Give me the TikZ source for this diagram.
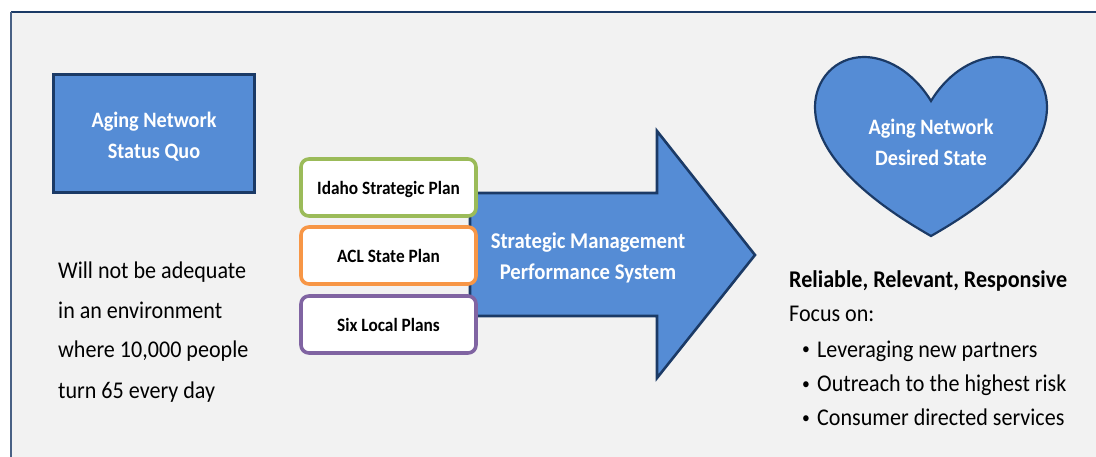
\documentclass[tikz,border=0pt]{standalone}
\usepackage{fontspec}
\setmainfont[FakeStretch=0.92]{Carlito}
\definecolor{fillblue}{HTML}{558CD5}
\definecolor{edgeblue}{HTML}{1B3A66}
\definecolor{panelgray}{HTML}{F2F2F2}
\definecolor{planGreen}{HTML}{9BBB59}
\definecolor{planOrange}{HTML}{F79646}
\definecolor{planPurple}{HTML}{8064A2}
\tikzset{
  shapeblue/.style={draw=edgeblue,fill=fillblue,line width=2.6pt,line join=miter},
  whitetxt/.style={text=white,font=\bfseries\fontsize{22}{31}\selectfont,align=center},
  plantxt/.style={font=\bfseries\fontsize{18.8}{22}\selectfont,text=black},
  planbox/.style={draw,fill=white,rounded corners=8pt,line width=3.6pt,minimum width=175pt,minimum height=57pt,inner sep=0pt},
  bodytxt/.style={anchor=base west,inner sep=0pt,font=\fontsize{24}{28}\selectfont,text=black}
}
\begin{document}
\begin{tikzpicture}[x=1pt,y=-1pt]
\useasboundingbox (0,0) rectangle (1096,457);

\fill[panelgray] (11,13) rectangle (1096,457);
\draw[edgeblue,line width=2.4pt] (1096,12)--(11,12);
\draw[edgeblue!80!white,line width=1.2pt] (11,12)--(11,457);

% status quo
\node[shapeblue,line width=3pt,minimum width=201pt,minimum height=118pt,inner sep=0pt] (quo) at (154,134) {};
\node[whitetxt] (quotxt) at (154,137) {Aging Network\\Status Quo};
\node[bodytxt] (q1) at (58,279) {Will not be adequate};
\node[bodytxt] (q2) at (58,319) {in an environment};
\node[bodytxt] (q3) at (58,358) {where 10,000 people};
\node[bodytxt] (q4) at (58,398) {turn 65 every day};

% big arrow
\draw[shapeblue] (470,193)--(657,193)--(657,131)--(755,255)--(657,378)--(657,316)--(470,316)--cycle;
\node[whitetxt,font=\fontsize{22.5}{31}\selectfont\bfseries] (sys) at (588,258) {Strategic Management\\Performance System};

% plans
\node[planbox,draw=planGreen] (idaho) at (388.5,187.5) {};
\node[planbox,draw=planOrange] (acl) at (388.5,255.5) {};
\node[planbox,draw=planPurple] (six) at (388.5,324.5) {};
\node[plantxt] (idahotxt) at (388.5,189) {Idaho Strategic Plan};
\node[plantxt] (acltxt) at (388.5,256) {ACL State Plan};
\node[plantxt] (sixtxt) at (388.5,325) {Six Local Plans};

% heart
\draw[shapeblue,line width=2.2pt] (931,101) .. controls (912,70) and (885,57) .. (864,57)
  .. controls (835,57) and (815,80) .. (815,107)
  .. controls (815,160) and (880,207) .. (931,236)
  .. controls (982,207) and (1047,160) .. (1047,107)
  .. controls (1047,80) and (1027,57) .. (998,57)
  .. controls (977,57) and (950,70) .. (931,101)--cycle;
\node[whitetxt] (state) at (931,142) {Aging Network\\Desired State};

% focus list
\node[bodytxt,font=\bfseries\fontsize{24}{28}\selectfont] (rel) at (789,288) {Reliable, Relevant, Responsive};
\node[bodytxt] (focus) at (789,322) {Focus on:};
\foreach \nm/\yy/\txt in {lev/357/Leveraging new partners,out/391/Outreach to the highest risk,con/425/Consumer directed services}{
  \node[bodytxt] (\nm) at (817,\yy) {\txt};
  \node[bodytxt,font=\fontsize{17}{20}\selectfont] (b\nm) at (802,\yy-2) {•};
}
\end{tikzpicture}
\end{document}
